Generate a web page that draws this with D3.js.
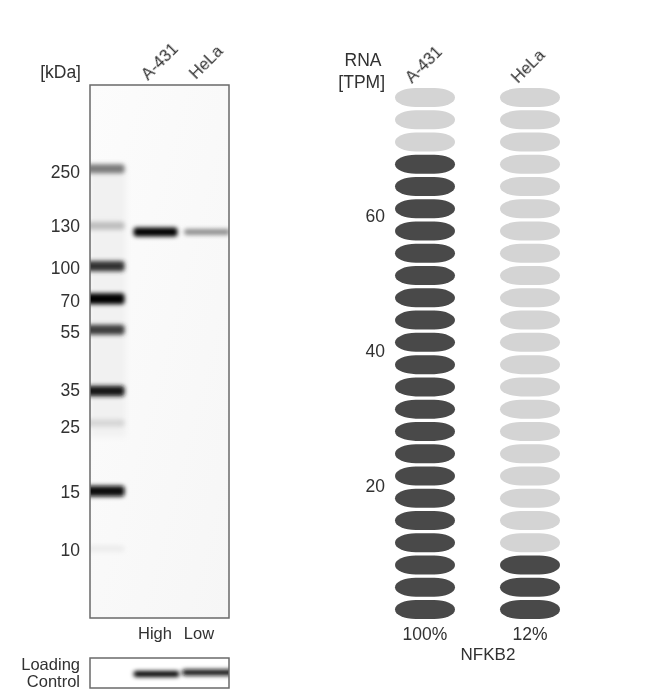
<!DOCTYPE html>
<html><head><meta charset="utf-8">
<script src="https://cdn.jsdelivr.net/npm/d3@7/dist/d3.min.js"></script>
<style>html,body{margin:0;background:#fff}svg{display:block}text{font-family:"Liberation Sans",Arial,sans-serif;fill:#303030;font-size:17.5px}</style>
</head><body><svg id="c" width="650" height="693"></svg>
<script>
// --- data ---
const ladderKDa   = [250, 130, 100, 70, 55, 35, 25, 15, 10];
const ladderMigr  = [15.7, 26.4, 34.0, 40.1, 45.9, 57.4, 63.4, 76.2, 87.0]; // % of membrane height
const ladderLevel = [0.50, 0.22, 0.80, 1.00, 0.75, 0.90, 0.12, 0.95, 0.03];
const labelMigr   = [16.2, 26.3, 34.2, 40.3, 46.2, 57.0, 64.0, 76.2, 87.0];
const blotLanes   = ["A-431", "HeLa"];
const blotLoads   = ["High", "Low"];
const sampleMigr  = 27.6;
const sampleLevel = [1.0, 0.42];
const loadingLevel = [1.0, 0.95];
const rnaSamples  = ["A-431", "HeLa"];
const rnaPct      = ["100%", "12%"];
const rnaTotalPills = 24;
const rnaFilled   = [21, 3];
const rnaTicks    = [20, 40, 60];
const geneName    = "NFKB2";

const svg = d3.select("#c");
const defs = svg.append("defs");
[["b1",2],["b2",3],["soft",0.7],["edge",0.5],["txt",0.45]].forEach(([id,s])=>{
  defs.append("filter").attr("id",id).attr("x","-30%").attr("y","-150%").attr("width","160%").attr("height","400%")
    .append("feGaussianBlur").attr("stdDeviation",s);
});
const root = svg.append("g");

// blot scales
const mem = {x0:90,x1:229,y0:85,y1:618};
const yMig = d3.scaleLinear().domain([0,100]).range([mem.y0,mem.y1]);
const xLane = d3.scaleOrdinal().domain(blotLanes).range([155.5,207]);
const wLane = d3.scaleOrdinal().domain(blotLanes).range([44,46]);
const dark = d3.scaleLinear().domain([0,1]).range(["#f4f4f4","#000"]);
const thick = d3.scaleLinear().domain([0,1]).range([7,11]);

// membrane
const g = defs.append("linearGradient").attr("id","bg").attr("x1",0).attr("x2",1).attr("y1",0).attr("y2",1);
g.append("stop").attr("offset",0).attr("stop-color","#fcfcfc");
g.append("stop").attr("offset",.5).attr("stop-color","#f9f9f9");
g.append("stop").attr("offset",1).attr("stop-color","#f6f6f6");
defs.append("clipPath").attr("id","memClip").append("rect").attr("x",mem.x0).attr("y",mem.y0).attr("width",mem.x1-mem.x0).attr("height",mem.y1-mem.y0);
root.append("rect").attr("x",mem.x0).attr("y",mem.y0).attr("width",mem.x1-mem.x0).attr("height",mem.y1-mem.y0).attr("fill","url(#bg)");
const blot = root.append("g").attr("clip-path","url(#memClip)");
blot.append("rect").attr("x",mem.x0).attr("y",yMig(15)).attr("width",36).attr("height",yMig(66)-yMig(15)).attr("fill","#f1f1f1").attr("filter","url(#b2)");
blot.selectAll(".lad").data(ladderKDa).join("rect").attr("class","lad")
  .attr("x",mem.x0-4).attr("width",38.5)
  .attr("y",(d,i)=>yMig(ladderMigr[i])-thick(ladderLevel[i])/2)
  .attr("height",(d,i)=>thick(ladderLevel[i]))
  .attr("rx",3)
  .attr("fill",(d,i)=>dark(ladderLevel[i]))
  .attr("filter","url(#b1)");
blot.selectAll(".band").data(blotLanes).join("rect").attr("class","band")
  .attr("x",d=>xLane(d)-wLane(d)/2).attr("width",d=>wLane(d))
  .attr("y",(d,i)=>yMig(sampleMigr)-(i?3:4.5))
  .attr("height",(d,i)=>i?6:9).attr("rx",3)
  .attr("fill",(d,i)=>d3.scaleLinear().domain([0,1]).range(["#f4f4f4","#000"])(sampleLevel[i]))
  .attr("filter","url(#b1)");
root.append("rect").attr("x",mem.x0).attr("y",mem.y0).attr("width",mem.x1-mem.x0).attr("height",mem.y1-mem.y0)
  .attr("fill","none").attr("stroke","#6a6a6a").attr("stroke-width",1.5).attr("filter","url(#edge)");

// blot text
const yAxis = d3.axisLeft(d3.scaleOrdinal().domain(ladderKDa).range(labelMigr.map(yMig))).tickSize(0).tickPadding(0);
const ax = root.append("g").attr("transform","translate(80,0)").call(yAxis);
ax.select(".domain").remove();
ax.selectAll("text").attr("dy","0.36em");
ax.attr("font-family",null).attr("font-size",null);
root.append("text").attr("x",81).attr("y",78).attr("text-anchor","end").text("[kDa]");
const rot=(sel,x,y)=>sel.attr("transform",`translate(${x},${y}) rotate(-45)`).style("font-size","16.5px");
rot(root.append("text").text(blotLanes[0]),148,81);
rot(root.append("text").text(blotLanes[1]),196,80);
root.selectAll(".load").data(blotLoads).join("text").attr("class","load")
  .attr("x",d=>d==="High"?155:199).attr("y",639).attr("text-anchor","middle").style("font-size","16.5px").text(d=>d);
root.append("text").attr("x",80).attr("y",670).attr("text-anchor","end").style("font-size","16.5px").text("Loading");
root.append("text").attr("x",80).attr("y",687).attr("text-anchor","end").style("font-size","16.5px").text("Control");

// loading control
const lc={y0:658,y1:688};
defs.append("clipPath").attr("id","lcClip").append("rect").attr("x",mem.x0).attr("y",lc.y0).attr("width",mem.x1-mem.x0).attr("height",lc.y1-lc.y0);
root.append("rect").attr("x",mem.x0).attr("y",lc.y0).attr("width",mem.x1-mem.x0).attr("height",lc.y1-lc.y0).attr("fill","#fff");
root.append("g").attr("clip-path","url(#lcClip)").selectAll("rect").data(blotLanes).join("rect")
  .attr("x",d=>xLane(d)-wLane(d)/2-(d==="HeLa"?2:0)).attr("width",d=>wLane(d)+(d==="HeLa"?8:2))
  .attr("y",(d,i)=>i?669.5:671).attr("height",6).attr("rx",3)
  .attr("fill",(d,i)=>d3.interpolateGreys(loadingLevel[i]))
  .attr("filter","url(#b1)");
root.append("rect").attr("x",mem.x0).attr("y",lc.y0).attr("width",mem.x1-mem.x0).attr("height",lc.y1-lc.y0)
  .attr("fill","none").attr("stroke","#6a6a6a").attr("stroke-width",1.5).attr("filter","url(#edge)");

// RNA panel
const tpm = d3.scaleLinear().domain([0,60]).range([621,216]);
const rows = d3.range(1,rnaTotalPills+1);
const yRow = d3.scaleBand().domain(rows).range([620.6,86.4]);
const xRna = d3.scaleOrdinal().domain(rnaSamples).range([425,530]);
const pillW=60, pillH=19;
const rna = root.append("g");
rnaSamples.forEach((s,si)=>{
  rna.append("g").selectAll("rect").data(rows).join("rect")
    .attr("x",xRna(s)-pillW/2).attr("width",pillW)
    .attr("y",d=>yRow(d)+yRow.bandwidth()/2-pillH/2).attr("height",pillH)
    .attr("rx",pillW/2.9).attr("ry",pillH/2)
    .attr("fill",d=>d<=rnaFilled[si]?"#4a4a4a":"#d4d4d4")
    .attr("filter","url(#soft)");
});
rna.selectAll(".tick").data(rnaTicks).join("text").attr("class","tick")
  .attr("x",385).attr("y",d=>tpm(d)).attr("dy","0.36em").attr("text-anchor","end").text(d=>d);
root.append("text").attr("x",363).attr("y",66).attr("text-anchor","middle").text("RNA");
root.append("text").attr("x",385).attr("y",88).attr("text-anchor","end").text("[TPM]");
rot(root.append("text").text(rnaSamples[0]),412,84);
rot(root.append("text").text(rnaSamples[1]),518,84);
root.selectAll(".pct").data(rnaSamples).join("text").attr("class","pct")
  .attr("x",d=>xRna(d)).attr("y",640).attr("text-anchor","middle").text((d,i)=>rnaPct[i]);
root.append("text").attr("x",488).attr("y",660).attr("text-anchor","middle").style("font-size","17px").text(geneName);
svg.selectAll("text").attr("filter","url(#txt)");
</script></body></html>
